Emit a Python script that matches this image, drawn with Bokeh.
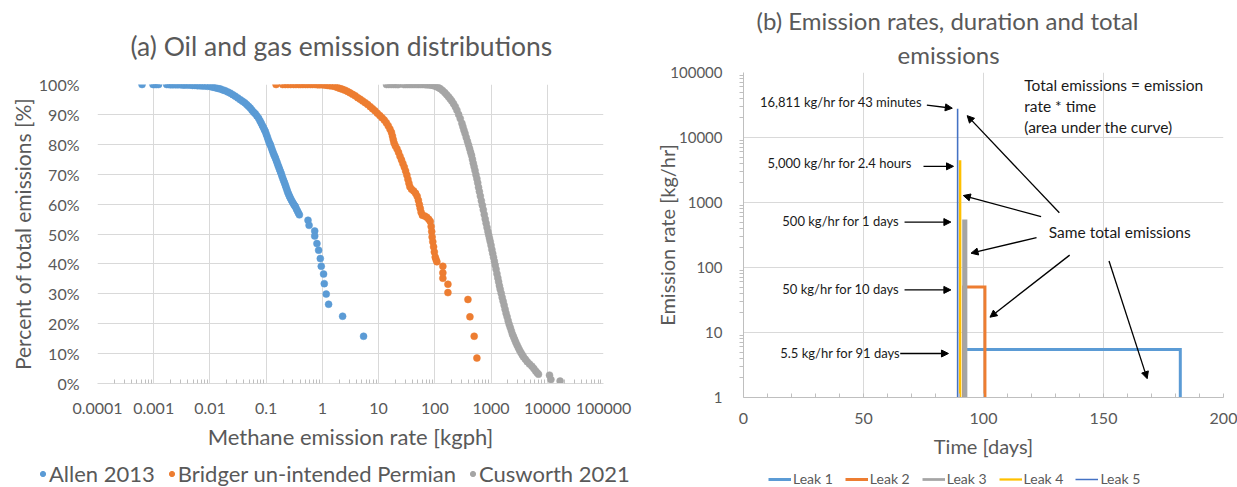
from bokeh.plotting import figure
from bokeh.models import (Range1d, FixedTicker, Legend, LegendItem, Label, Arrow,
                          NormalHead, Title)
from bokeh.embed import file_html
from bokeh.resources import INLINE

FONT = "Lato"
TXT = "#595959"
GRID = "#D9D9D9"

# ---------------- data: panel (a) ----------------
allen_rate = [0.00062, 0.00097, 0.00104, 0.00112, 0.00122, 0.0017, 0.00185, 0.0020, 0.0022, 0.00245,
              0.0027, 0.0030, 0.0033, 0.0036, 0.0040, 0.0044, 0.0049, 0.0054, 0.0060, 0.0066,
              0.0073, 0.0081, 0.0090, 0.0102, 0.0113, 0.0125, 0.0139, 0.0153, 0.0169, 0.0187,
              0.0208, 0.0231, 0.0255, 0.0282, 0.0313, 0.0347, 0.0380, 0.0415, 0.0450, 0.0485,
              0.0522, 0.0560, 0.0600, 0.0640, 0.0685, 0.0735, 0.0775, 0.0815, 0.0855, 0.0895,
              0.0930, 0.0966, 0.1005, 0.1045, 0.1085, 0.1125, 0.1160, 0.1190, 0.1235, 0.1280,
              0.1325, 0.1370, 0.1415, 0.1460, 0.1515, 0.1570, 0.1625, 0.1680, 0.1735, 0.1790,
              0.1850, 0.1910, 0.1980, 0.2050, 0.2120, 0.2190, 0.2260, 0.2340, 0.2420, 0.2510,
              0.2600, 0.2690, 0.2820, 0.2950, 0.3080, 0.3200, 0.3300, 0.3450, 0.3600, 0.3750,
              0.3900, 0.555, 0.58, 0.73, 0.73, 0.80, 0.857, 0.918, 0.955, 1.05,
              1.08, 1.17, 1.29, 2.29, 5.4]
allen_pct = [100, 100, 100, 100, 100, 100, 100, 99.9, 99.9, 99.9,
             99.9, 99.9, 99.8, 99.8, 99.8, 99.8, 99.7, 99.7, 99.6, 99.6,
             99.5, 99.5, 99.4, 99.3, 99.1, 98.9, 98.7, 98.5, 98.2, 97.9,
             97.5, 97.1, 96.6, 96.1, 95.5, 94.9, 94.4, 93.9, 93.3, 92.7,
             92.1, 91.4, 90.7, 90.2, 89.5, 88.7, 87.9, 87.1, 86.3, 85.6,
             84.9, 84.3, 83.4, 82.5, 81.6, 80.8, 80.2, 79.8, 78.9, 78.1,
             77.3, 76.6, 76.0, 75.4, 74.6, 73.8, 73.0, 72.3, 71.6, 70.9,
             70.2, 69.4, 68.6, 67.8, 67.1, 66.4, 65.6, 64.8, 64.0, 63.3,
             62.6, 62.0, 61.3, 60.6, 60.0, 59.5, 59.2, 58.4, 57.7, 57.0,
             56.4, 54.6, 52.9, 51.0, 49.3, 46.8, 44.6, 41.8, 39.2, 36.6,
             33.4, 29.9, 26.5, 22.5, 15.8]

bridger_rate = [0.150, 0.196, 0.219, 0.244, 0.272, 0.308, 0.339, 0.378, 0.41, 0.45,
                0.50, 0.55, 0.61, 0.67, 0.74, 0.82, 0.90, 1.00, 1.10, 1.22,
                1.35, 1.50, 1.67, 1.85, 2.05, 2.27, 2.52, 2.80, 3.10, 3.45,
                3.84, 4.25, 4.70, 5.20, 5.79, 6.40, 7.10, 7.80, 8.60, 9.50,
                10.5, 11.5, 12.6, 13.7, 14.8, 15.9, 16.9, 17.6, 18.2, 18.8,
                19.8, 21.2, 22.6, 24.0, 25.5, 27.0, 28.6, 30.2, 31.8, 33.2,
                34.6, 36.0, 38.5, 42.0, 45.5, 48.5, 51.0, 53.0, 55.0, 57.0,
                60.0, 66.0, 72.0, 78.0, 83.0, 86.0, 88.0, 89.5, 92.0, 95.0,
                98.0, 101.6, 105.0, 108.8, 139, 139, 139, 171, 171, 388,
                421, 501, 560]
bridger_pct = [100, 100, 100, 100, 100, 100, 100, 100, 100, 100,
               100, 100, 100, 100, 100, 99.9, 99.9, 99.9, 99.8, 99.7,
               99.6, 99.5, 99.3, 99.0, 98.7, 98.4, 98.1, 97.7, 97.2, 96.7,
               96.2, 95.6, 95.1, 94.5, 93.9, 93.3, 92.6, 91.9, 91.2, 90.4,
               89.6, 88.9, 88.1, 87.2, 86.2, 85.1, 84.0, 82.8, 81.6, 80.5,
               79.5, 78.5, 77.3, 76.0, 74.8, 73.6, 72.4, 71.1, 69.7, 68.3,
               67.0, 65.8, 65.0, 64.4, 63.6, 62.6, 61.3, 59.9, 58.6, 57.3,
               56.3, 56.0, 55.6, 54.9, 54.2, 52.5, 50.8, 49.0, 47.4, 45.7,
               44.0, 42.3, 41.5, 40.7, 39.2, 37.0, 35.2, 33.2, 30.4, 28.1,
               22.3, 15.8, 8.5]

cusworth_rate = [13.8, 15.2, 16.7, 18.3, 20.0, 21.5, 22.6, 27.8, 30.0, 32.5,
                 35.2, 38.0, 41.0, 44.3, 47.8, 51.5, 55.5, 60.0, 64.5, 69.5,
                 75.0, 80.0, 85, 92, 100, 107, 115, 125, 137, 150,
                 162, 175, 187, 200, 215, 231, 247, 265, 283, 303,
                 316, 330, 345, 362, 380, 398, 415, 432, 450, 466,
                 483, 500, 519, 539, 560, 579, 599, 620, 645, 672,
                 700, 728, 757, 787, 817, 848, 880, 908, 937, 966,
                 1000, 1034, 1070, 1107, 1145, 1185, 1228, 1273, 1320, 1363,
                 1408, 1455, 1515, 1576, 1640, 1708, 1777, 1850, 1930, 2013,
                 2100, 2197, 2297, 2400, 2512, 2628, 2750, 2895, 3044, 3200,
                 3390, 3580, 3780, 4080, 4400, 4830, 5320, 5760, 6200, 6600,
                 6980, 10960, 11600, 16900]
cusworth_pct = [100, 100, 100, 100, 100, 100, 100, 100, 100, 100,
                100, 100, 100, 100, 100, 100, 100, 100, 100, 99.9,
                99.9, 99.9, 99.8, 99.7, 99.5, 99.3, 99.0, 98.6, 98.0, 97.3,
                96.6, 95.9, 95.2, 94.5, 93.6, 92.6, 91.4, 90.0, 88.6, 87.0,
                85.9, 84.7, 83.6, 82.3, 81.0, 79.8, 78.6, 77.4, 76.3, 75.0,
                73.7, 72.5, 71.2, 69.8, 68.5, 67.1, 65.6, 64.2, 62.7, 61.1,
                59.6, 58.1, 56.5, 55.0, 53.6, 52.2, 50.8, 49.7, 48.6, 47.5,
                46.2, 44.8, 43.5, 42.2, 40.9, 39.6, 38.2, 36.7, 35.3, 34.0,
                32.7, 31.5, 30.2, 28.8, 27.5, 26.2, 24.8, 23.5, 22.3, 21.0,
                19.8, 18.7, 17.6, 16.5, 15.6, 14.7, 13.8, 12.9, 12.0, 11.2,
                10.4, 9.6, 8.9, 8.1, 7.3, 6.5, 5.8, 5.0, 4.2, 3.6,
                3.1, 2.8, 1.3, 0.8]

series_names = ["Allen 2013", "Bridger un-intended Permian", "Cusworth 2021"]
series_colors = ["#5B9BD5", "#ED7D31", "#A5A5A5"]

rate_ticks = [0.0001, 0.001, 0.01, 0.1, 1.0, 10.0, 100.0, 1000.0, 10000.0, 100000.0]
rate_tick_labels = ["0.0001", "0.001", "0.01", "0.1", "1", "10", "100", "1000", "10000", "100000"]
pct_ticks = [0, 10, 20, 30, 40, 50, 60, 70, 80, 90, 100]
pct_tick_labels = ["0%", "10%", "20%", "30%", "40%", "50%", "60%", "70%", "80%", "90%", "100%"]

# ---------------- data: panel (b) ----------------
leak_names = ["Leak 1", "Leak 2", "Leak 3", "Leak 4", "Leak 5"]
leak1_time = [91.7, 91.7, 182.0, 182.0]
leak1_rate = [1, 5.5, 5.5, 1]
leak2_time = [91.7, 91.7, 100.6, 100.6]
leak2_rate = [1, 50, 50, 1]
leak3_time = [91.7, 91.7, 92.7, 92.7]
leak3_rate = [1, 520, 520, 1]
leak4_time = [90.2, 90.2, 90.3, 90.3]
leak4_rate = [1, 4300, 4300, 1]
leak5_time = [89.2, 89.2, 89.23, 89.23]
leak5_rate = [1, 27000, 27000, 1]
leak_colors = ["#5B9BD5", "#ED7D31", "#A5A5A5", "#FFC000", "#4472C4"]
leak_widths = [3, 3, 2.75, 2.25, 1.5]

time_ticks = [0, 50, 100, 150, 200]
emis_ticks = [1.0, 10.0, 100.0, 1000.0, 10000.0, 100000.0]
emis_tick_labels = ["1", "10", "100", "1000", "10000", "100000"]

CHART_H = 460          # chart part of each panel; the legend strip sits below it
LEGEND_H = 487 - CHART_H


def style_axis(ax, size="16px", label_size="20px"):
    ax.major_label_text_font = FONT
    ax.major_label_text_font_size = size
    ax.major_label_text_color = TXT
    ax.axis_label_text_font = FONT
    ax.axis_label_text_font_size = label_size
    ax.axis_label_text_color = TXT
    ax.axis_label_text_font_style = "normal"


def make_title(text, size, offset, standoff):
    t = Title(text=text, align="left", text_font=FONT, text_font_size=size,
              text_font_style="normal", text_color=TXT, offset=offset)
    try:
        t.standoff = standoff
    except Exception:
        pass
    return t


def legend_strip(width):
    f = figure(width=width, height=LEGEND_H, x_range=Range1d(0, 1), y_range=Range1d(-10, -9),
               output_backend="svg", toolbar_location=None, min_border=0,
               x_axis_location=None, y_axis_location=None)
    f.outline_line_color = None
    f.background_fill_alpha = 0
    f.border_fill_alpha = 0
    f.xgrid.visible = False
    f.ygrid.visible = False
    return f


# ======================= panel (a) =======================
p1 = figure(width=640, height=CHART_H, x_axis_type="log",
            x_range=Range1d(1e-4, 1e5), y_range=Range1d(0, 100),
            output_backend="svg", toolbar_location=None,
            min_border_left=97, min_border_right=37, min_border_top=84,
            min_border_bottom=CHART_H - 84 - 299)
p1.outline_line_color = None

for xs, ys, c in [(allen_rate, allen_pct, series_colors[0]),
                  (bridger_rate, bridger_pct, series_colors[1]),
                  (cusworth_rate, cusworth_pct, series_colors[2])]:
    p1.scatter(xs, ys, size=7, fill_color=c, line_color=c, line_width=0.5)

minor_rate = [m * 10.0 ** k for k in range(-4, 5) for m in range(2, 10)]
xa = p1.below[0]
xa.ticker = FixedTicker(ticks=rate_ticks, minor_ticks=minor_rate)
xa.major_label_overrides = {float(t): l for t, l in zip(rate_ticks, rate_tick_labels)}
xa.axis_line_color = GRID
xa.major_tick_in = 0
xa.major_tick_out = 0
xa.minor_tick_in = 4
xa.minor_tick_out = 0
xa.minor_tick_line_color = "#BFBFBF"
xa.major_label_standoff = 19
xa.axis_label = "Methane emission rate [kgph]"
xa.axis_label_standoff = 6
style_axis(xa, "16px", "22px")

ya = p1.left[0]
ya.ticker = FixedTicker(ticks=pct_ticks, minor_ticks=[])
ya.major_label_overrides = {t: l for t, l in zip(pct_ticks, pct_tick_labels)}
ya.axis_line_color = None
ya.major_tick_in = 0
ya.major_tick_out = 0
ya.minor_tick_in = 0
ya.minor_tick_out = 0
ya.major_label_standoff = 18
ya.axis_label = "Percent of total emissions [%]"
ya.axis_label_standoff = 1
style_axis(ya, "16px", "21px")

p1.xgrid.grid_line_color = GRID
p1.ygrid.grid_line_color = GRID

p1.add_layout(make_title("(a) Oil and gas emission distributions", "26.5px", 33, 46), "above")

# legend strip of panel (a)
l1 = legend_strip(640)
leg1_items = []
for n, xs, ys, c in zip(series_names, [allen_rate, bridger_rate, cusworth_rate],
                        [allen_pct, bridger_pct, cusworth_pct], series_colors):
    r = l1.scatter(xs, ys, size=7, fill_color=c, line_color=c)
    leg1_items.append(LegendItem(label=n, renderers=[r]))
leg1 = Legend(items=leg1_items, orientation="horizontal", location=(36, 0),
              glyph_width=13, glyph_height=13, label_standoff=0, spacing=10,
              padding=0, margin=0, border_line_alpha=0, background_fill_alpha=0,
              label_text_font=FONT, label_text_font_size="22px", label_text_color=TXT)
l1.add_layout(leg1)

# ======================= panel (b) =======================
p2 = figure(width=597, height=CHART_H, y_axis_type="log",
            x_range=Range1d(0, 200), y_range=Range1d(1, 1e5),
            output_backend="svg", toolbar_location=None,
            min_border_left=103, min_border_right=14, min_border_top=72,
            min_border_bottom=CHART_H - 72 - 327)
p2.outline_line_color = None

leak_series = [(leak1_time, leak1_rate), (leak2_time, leak2_rate), (leak3_time, leak3_rate),
               (leak4_time, leak4_rate), (leak5_time, leak5_rate)]
for (ts, rs), c, w in zip(leak_series, leak_colors, leak_widths):
    p2.line(ts, rs, line_color=c, line_width=w, line_join="miter")

xb = p2.below[0]
xb.ticker = FixedTicker(ticks=time_ticks, minor_ticks=list(range(0, 201, 10)))
xb.axis_line_color = "#BFBFBF"
xb.major_tick_in = 0
xb.major_tick_out = 0
xb.minor_tick_in = 4
xb.minor_tick_out = 0
xb.minor_tick_line_color = "#BFBFBF"
xb.major_label_standoff = 15
xb.axis_label = "Time [days]"
xb.axis_label_standoff = 7
style_axis(xb)

minor_emis = [m * 10.0 ** k for k in range(0, 5) for m in range(2, 10)]
yb = p2.left[0]
yb.ticker = FixedTicker(ticks=emis_ticks, minor_ticks=minor_emis)
yb.major_label_overrides = {float(t): l for t, l in zip(emis_ticks, emis_tick_labels)}
yb.axis_line_color = "#BFBFBF"
yb.major_tick_in = 0
yb.major_tick_out = 0
yb.minor_tick_in = 0
yb.minor_tick_out = 4
yb.minor_tick_line_color = "#BFBFBF"
yb.major_label_standoff = 17
yb.axis_label = "Emission rate [kg/hr]"
yb.axis_label_standoff = -12
style_axis(yb, "15px")

p2.xgrid.grid_line_color = GRID
p2.ygrid.grid_line_color = GRID

# two-line title: lines added from the frame outward
p2.add_layout(make_title("emissions", "24px", 154, 7), "above")
p2.add_layout(make_title("(b) Emission rates, duration and total", "24px", 13, 0), "above")

# annotation texts (right-aligned labels next to lines)
ann = [("16,811 kg/hr for 43 minutes", 74.4, 35500),
       ("5,000 kg/hr for 2.4 hours", 70.2, 4070),
       ("500 kg/hr for 1 days", 64.9, 520),
       ("50 kg/hr for 10 days", 64.9, 46.8),
       ("5.5 kg/hr for 91 days", 65.3, 4.8)]
for txt, x, y in ann:
    p2.add_layout(Label(x=x, y=y, text=txt, text_align="right", text_baseline="middle",
                        text_font=FONT, text_font_size="13px", text_color="#1a1a1a"))

for txt, y in [("Total emissions = emission", 63970), ("rate * time", 30550),
               ("(area under the curve)", 14720)]:
    p2.add_layout(Label(x=117.0, y=y, text=txt, text_align="left", text_baseline="middle",
                        text_font=FONT, text_font_size="15.5px", text_color="#1a1a1a"))
p2.add_layout(Label(x=127.2, y=355.6, text="Same total emissions", text_align="left",
                    text_baseline="middle", text_font=FONT, text_font_size="15.5px",
                    text_color="#1a1a1a"))

arrows = [(76.4, 31600, 87.0, 28200),
          (75.0, 3600, 87.5, 3600),
          (67.1, 500, 86.4, 500),
          (67.1, 45.2, 86.4, 45.2),
          (65.3, 4.75, 85.4, 4.75),
          (131.6, 695, 93.2, 21700),
          (124.0, 604, 91.6, 1280),
          (122.1, 288, 94.8, 166),
          (135.9, 155, 102.7, 17.2),
          (152.3, 126, 168.2, 1.95)]
for xs, ys, xe, ye in arrows:
    p2.add_layout(Arrow(end=NormalHead(size=7, fill_color="black", line_color="black", line_width=1),
                        x_start=xs, y_start=ys, x_end=xe, y_end=ye,
                        line_color="black", line_width=1.3))

# legend strip of panel (b)
l2 = legend_strip(597)
leg2_items = []
for n, (ts, rs), c, w in zip(leak_names, leak_series, leak_colors, leak_widths):
    r = l2.line(ts, rs, line_color=c, line_width=w)
    leg2_items.append(LegendItem(label=n, renderers=[r]))
leg2 = Legend(items=leg2_items, orientation="horizontal", location=(128, 0),
              glyph_width=23, glyph_height=12, label_height=16, label_standoff=2, spacing=12,
              padding=0, margin=0, border_line_alpha=0, background_fill_alpha=0,
              label_text_font=FONT, label_text_font_size="14px", label_text_color=TXT)
l2.add_layout(leg2)

# four independent roots on a 2x2 grid: charts on top, legend strips below
PAGE = """{% block postamble %}<style>
html, body { margin: 0; padding: 0; }
body { display: grid; grid-template-columns: 640px 597px; grid-auto-rows: min-content;
       align-content: start; align-items: start; justify-items: start; }
</style>{% endblock %}"""
open("out.html", "w").write(file_html([p1, p2, l1, l2], INLINE, template=PAGE))
